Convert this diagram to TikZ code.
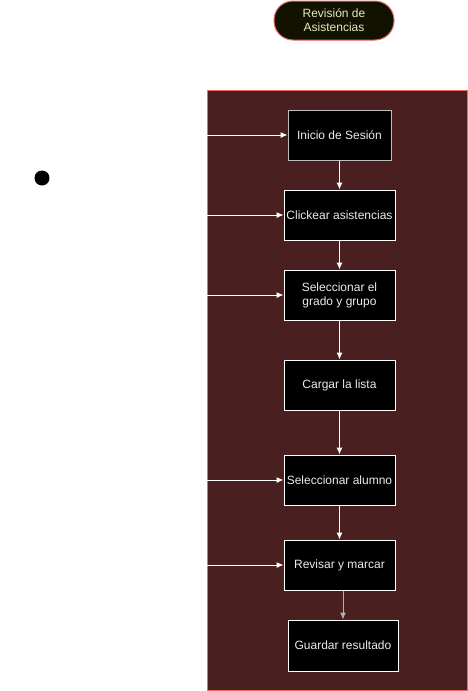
\documentclass[tikz,border=0pt]{standalone}
\usepackage{fontspec}
\setmainfont{Liberation Sans}
\usetikzlibrary{arrows.meta}
\definecolor{marco}{RGB}{74,31,31}
\definecolor{borde}{RGB}{234,107,102}
\definecolor{inicio}{RGB}{18,18,0}
\definecolor{letrainicio}{RGB}{232,232,190}
\begin{document}
\begin{tikzpicture}[x=1pt, y=-1pt, line width=1pt,
		paso/.style={draw=white, fill=black, text=white!92!black, minimum width=111pt, minimum height=50pt, inner sep=0pt, align=center, font=\fontsize{12}{14}\selectfont},
		flecha/.style={draw=white, -{Latex[length=7pt, width=6pt]}}]
			\useasboundingbox (0,0) rectangle (468,691);
			\fill [color=marco] (207,90) rectangle (467.5,690.5);
			\draw [color=borde] (207,90) rectangle (467.5,690.5);
			\node [draw=borde, fill=inicio, text=letrainicio, rounded corners=19pt, minimum width=120pt, minimum height=39pt, align=center, font=\fontsize{12}{14}\selectfont] (titulo) at (334,20.5) {Revisión de\\Asistencias};
			\fill (42,178) circle (7.5);
			\node [paso, minimum width=103pt, draw=white!75!black] (sesion) at (339.5,135) {Inicio de Sesión};
			\node [paso] (clickear) at (339.5,215) {Clickear asistencias};
			\node [paso] (grado) at (339.5,295) {Seleccionar el\\grado y grupo};
			\node [paso] (cargar) at (339.5,385) {Cargar la lista};
			\node [paso] (alumno) at (339.5,480) {Seleccionar alumno};
			\node [paso] (revisar) at (339.5,565) {Revisar y marcar};
			\node [paso, minimum width=110pt, minimum height=51pt] (guardar) at (343,645.5) {Guardar resultado};
			\coordinate (e1) at (207,135);
			\coordinate (e2) at (207,215);
			\coordinate (e3) at (207,295);
			\coordinate (e4) at (207,480);
			\coordinate (e5) at (207,565);
			\draw [flecha] (e1) -- (sesion);
			\draw [flecha] (e2) -- (clickear);
			\draw [flecha] (e3) -- (grado);
			\draw [flecha] (e4) -- (alumno);
			\draw [flecha] (e5) -- (revisar);
			\draw [flecha] (sesion) -- (clickear);
			\draw [flecha] (clickear) -- (grado);
			\draw [flecha] (grado) -- (cargar);
			\draw [flecha] (cargar) -- (alumno);
			\draw [flecha] (alumno) -- (revisar);
			\draw [flecha, draw=white!70!black] (revisar.south -| guardar) -- (guardar);
		\end{tikzpicture}
\end{document}
